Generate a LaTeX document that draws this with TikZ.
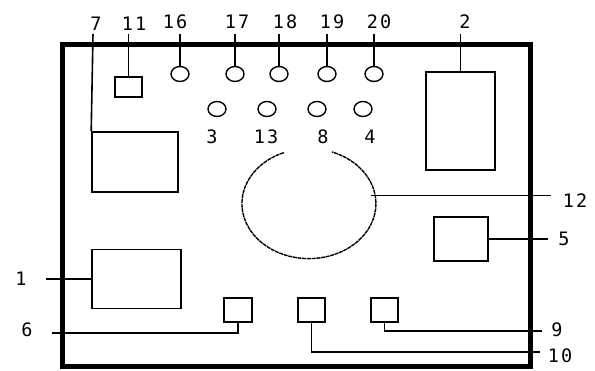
\documentclass[tikz,border=0pt]{standalone}
\usepackage{fontspec}
\newfontfamily\lblfont[LetterSpace=12]{DejaVu Sans Mono}
\usetikzlibrary{shapes.geometric}
\begin{document}
\begin{tikzpicture}[x=1pt,y=-1pt,
  part/.style={draw,line width=1.6pt,inner sep=0pt},
  knob/.style={draw,ellipse,line width=1.4pt,inner sep=0pt,minimum width=18pt,minimum height=15pt},
  lbl/.style={font=\lblfont\fontsize{18.5}{18.5}\selectfont,inner sep=0pt},
  lead/.style={line width=1.6pt},
  frame/.style={line width=5pt}]
\useasboundingbox (0,0) rectangle (595,371);
\fill[white] (0,0) rectangle (595,371);
% frame
\draw[frame] (62,45) rectangle (530,367);
% boxes
\node[part,minimum width=86pt,minimum height=60pt] (b7) at (135,162) {};
\node[part,minimum width=27pt,minimum height=20pt] (b11) at (128.5,87) {};
\node[part,minimum width=69pt,minimum height=98pt] (b2) at (460.5,121) {};
\node[part,minimum width=54pt,minimum height=44pt] (b5) at (461,239) {};
\node[part,minimum width=89pt,minimum height=59pt] (b1) at (136.5,279) {};
\node[part,minimum width=28pt,minimum height=24pt] (b6) at (238,310) {};
\node[part,minimum width=27pt,minimum height=24pt] (b10) at (311.5,310) {};
\node[part,minimum width=27pt,minimum height=24pt] (b9) at (384.5,310) {};
% knobs
\node[knob] (k16) at (180,74) {};
\node[knob] (k17) at (235,74) {};
\node[knob] (k18) at (279,74) {};
\node[knob] (k19) at (327,74) {};
\node[knob] (k20) at (374,74) {};
\node[knob] (k3) at (217,109) {};
\node[knob] (k13) at (267,109) {};
\node[knob] (k8) at (317,109) {};
\node[knob] (k4) at (363,109) {};
% big dial
\node[ellipse,minimum width=134pt,minimum height=110pt,inner sep=0pt] (c12) at (305,205) {};
\draw[line width=1.4pt,dash pattern=on 4pt off 0.7pt] (c12.112) arc[start angle=112,end angle=430,x radius=67pt,y radius=55pt];
% labels
\node[lbl] (l7) at (96,24) {7};
\node[lbl] (l11) at (134,24) {11};
\node[lbl] (l16) at (175,22) {16};
\node[lbl] (l17) at (237,22) {17};
\node[lbl] (l18) at (285,22) {18};
\node[lbl] (l19) at (332,22) {19};
\node[lbl] (l20) at (379,22) {20};
\node[lbl] (l2) at (465,22) {2};
\node[lbl] (l3) at (212,137) {3};
\node[lbl] (l13) at (266,137) {13};
\node[lbl] (l8) at (323,137) {8};
\node[lbl] (l4) at (370,137) {4};
\node[lbl] (l12) at (575,201) {12};
\node[lbl] (l5) at (564,239) {5};
\node[lbl] (l9) at (557,330) {9};
\node[lbl] (l10) at (560,356) {10};
\node[lbl] (l1) at (21,279) {1};
\node[lbl] (l6) at (27,330) {6};
% leader end points
\coordinate (t7) at (93,34);
\coordinate (t11) at (128.5,34);
\coordinate (ttop) at (0,34);
\coordinate (e12) at (551,197);
\coordinate (e5) at (548,0);
\coordinate (e9) at (542,331);
\coordinate (e10) at (540,352);
\coordinate (e1) at (46,0);
\coordinate (e6) at (52,333);
% leaders
\draw[lead] (b7.north west) -- (t7);
\draw[lead] (b11.north) -- (t11);
\foreach \k in {k16,k17,k18,k19,k20}{\draw[lead] (\k.north) -- (\k.north |- ttop);}
\draw[lead] (b2.north) -- (b2.north |- ttop);
\draw[lead] (c12.8) -- (c12.8 -| e12);
\draw[lead] (b5.east) -- (b5.east -| e5);
\draw[lead] (b1.west) -- (b1.west -| e1);
\draw[lead] (b6.south) |- (e6);
\draw[lead] (b9.south) |- (e9);
\draw[lead] (b10.south) |- (e10);
\end{tikzpicture}
\end{document}
